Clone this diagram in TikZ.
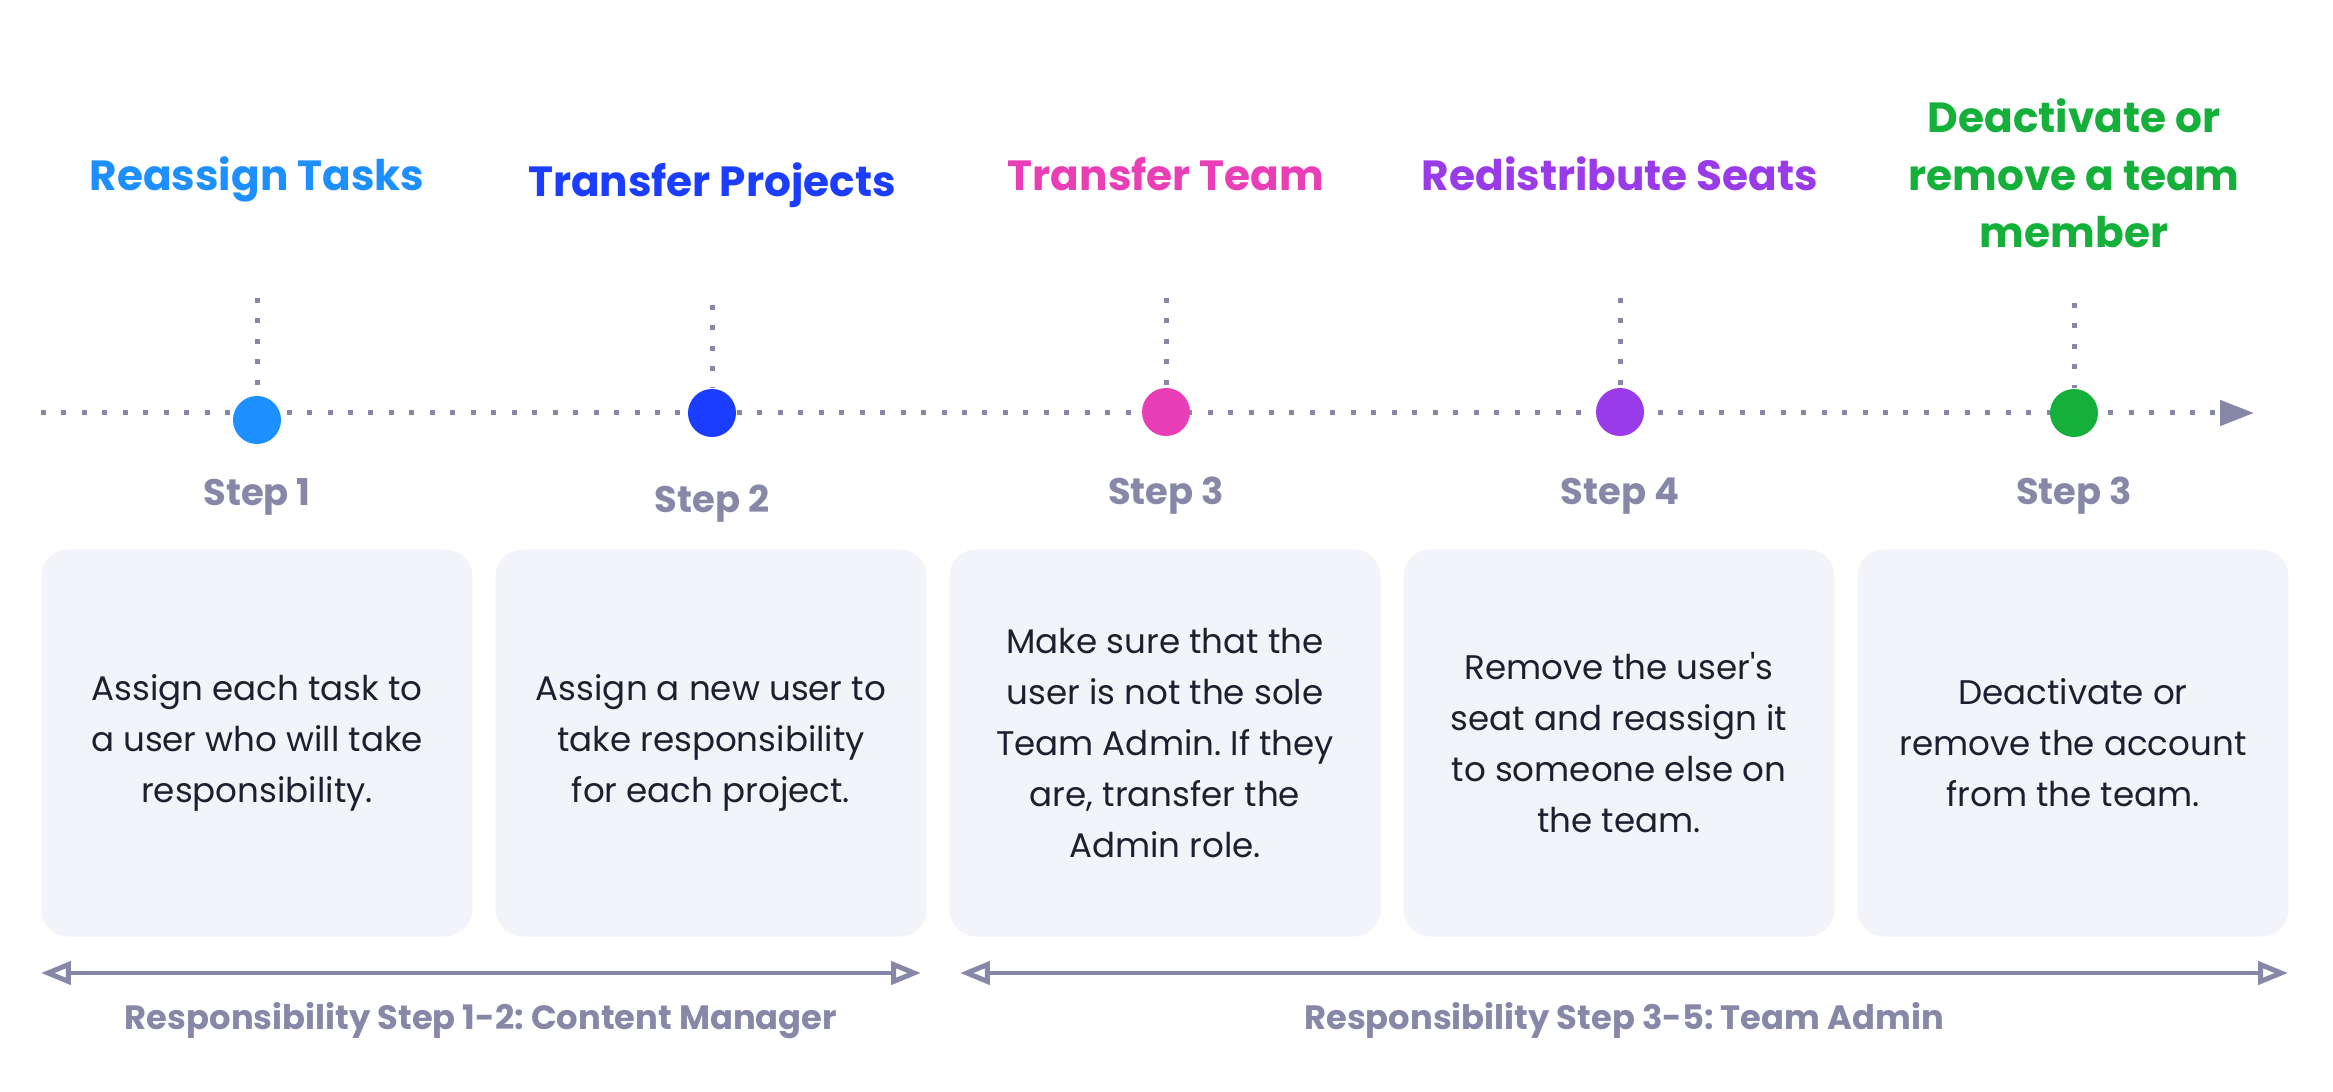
\documentclass[tikz,border=0pt]{standalone}
\usepackage{fontspec}
\setmainfont{Poppins}[Ligatures=TeXOff]
\usetikzlibrary{arrows.meta}
\usetikzlibrary{backgrounds}
\definecolor{lineGray}{HTML}{8787A8}
\definecolor{boxFill}{HTML}{F3F4F9}
\definecolor{bodyText}{HTML}{1E1E30}
\definecolor{stepOne}{HTML}{1E8FFF}
\definecolor{stepTwo}{HTML}{1A3DFF}
\definecolor{stepThree}{HTML}{EA3EB6}
\definecolor{stepFour}{HTML}{9A3BEA}
\definecolor{stepFive}{HTML}{14B03A}
\tikzset{
  dotline/.style={lineGray, line width=1.42pt, dash pattern=on 1.42pt off 4.4pt},
  stepdot/.style={circle, fill=#1, minimum size=0.48cm, inner sep=0pt},
  steptitle/.style={font=\bfseries\fontsize{12}{16.4}\selectfont, text=#1, align=center, anchor=base, inner sep=0pt},
  steplabel/.style={font=\bfseries\fontsize{10.5}{12}\selectfont, text=lineGray, anchor=base, inner sep=0pt},
  stepbox/.style={fill=boxFill, rounded corners=0.27cm, minimum width=4.31cm, minimum height=3.87cm,
    align=center, text=bodyText, font=\fontsize{9.7}{14.5}\selectfont},
  spanarrow/.style={lineGray, line width=1.42pt,
    {Triangle[open,length=8.5pt,width=6.5pt]}-{Triangle[open,length=8.5pt,width=6.5pt]}},
  spanlabel/.style={font=\bfseries\fontsize{9.6}{12}\selectfont, text=lineGray, anchor=base, inner sep=0pt}
}
\frenchspacing
\begin{document}
\begin{tikzpicture}[x=0.01cm, y=-0.01cm]
		\useasboundingbox (0,0) rectangle (2333,1092);
		% titles
		\node[steptitle=stepOne] (title1) at (257,191) {Reassign Tasks};
		\node[steptitle=stepTwo] (title2) at (712,197) {Transfer Projects};
		\node[steptitle=stepThree] (title3) at (1166,191) {Transfer Team};
		\node[steptitle=stepFour] (title4) at (1620,191) {Redistribute Seats};
		\node[steptitle=stepFive] (title5) at (2074,248) {Deactivate or\\remove a team\\member};
		% timeline
		\coordinate (tlstart) at (41,413);
		\coordinate (tlend) at (2254,413);
		\coordinate (top1) at (257,298);
		\coordinate (top2) at (712,305);
		\coordinate (top3) at (1166,298);
		\coordinate (top4) at (1620,298);
		\coordinate (top5) at (2074,303);
		\node[stepdot=stepOne] (dot1) at (257,420) {};
		\node[stepdot=stepTwo] (dot2) at (712,413) {};
		\node[stepdot=stepThree] (dot3) at (1166,412) {};
		\node[stepdot=stepFour] (dot4) at (1620,412) {};
		\node[stepdot=stepFive] (dot5) at (2074,413) {};
		\begin{scope}[on background layer]
			\draw[dotline, -{Triangle[length=0.34cm,width=0.25cm]}] (tlstart) -- (tlend);
			\foreach \i in {1,...,5} {
				\draw[dotline] (top\i) -- (dot\i);
			}
		\end{scope}
		% step labels
		\node[steplabel] (step1) at (257,506) {Step 1};
		\node[steplabel] (step2) at (712,513) {Step 2};
		\node[steplabel] (step3) at (1166,505) {Step 3};
		\node[steplabel] (step4) at (1620,505) {Step 4};
		\node[steplabel] (step5) at (2074,505) {Step 3};
		% boxes
		\node[stepbox] (box1) at (257,743) {Assign each task to\\a user who will take\\responsibility.};
		\node[stepbox] (box2) at (711,743) {Assign a new user to\\take responsibility\\for each project.};
		\node[stepbox] (box3) at (1165,743) {Make sure that the\\user is not the sole\\Team Admin. If they\\are, transfer the\\Admin role.};
		\node[stepbox] (box4) at (1619,743) {Remove the user's\\seat and reassign it\\to someone else on\\the team.};
		\node[stepbox] (box5) at (2073,743) {Deactivate or\\remove the account\\from the team.};
		% responsibility spans
		\coordinate (spanAl) at (41,973);
		\coordinate (spanAr) at (921,973);
		\coordinate (spanBl) at (960,973);
		\coordinate (spanBr) at (2288,973);
		\draw[spanarrow] (spanAl) -- (spanAr);
		\draw[spanarrow] (spanBl) -- (spanBr);
		\node[spanlabel] (spanA) at (481,1030) {Responsibility Step 1-2: Content Manager};
		\node[spanlabel] (spanB) at (1624,1030) {Responsibility Step 3-5: Team Admin};
	\end{tikzpicture}
\end{document}
